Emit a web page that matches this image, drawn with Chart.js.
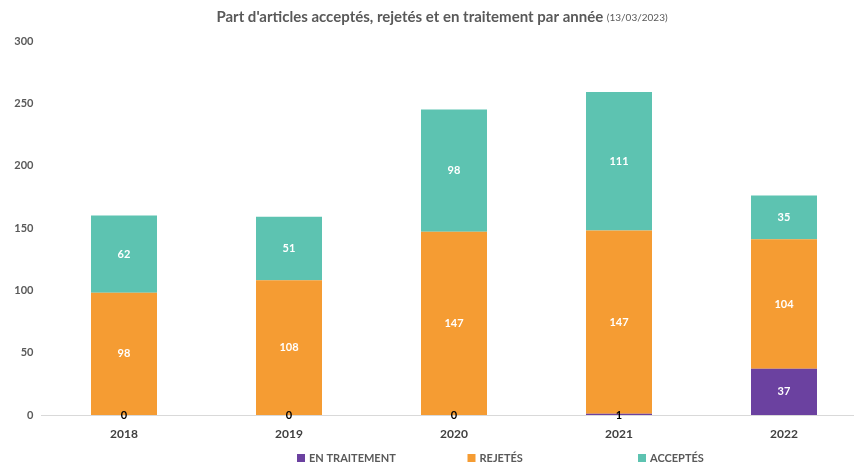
<!DOCTYPE html>
<html lang="fr">
<head>
<meta charset="utf-8">
<title>Articles par année</title>
<script src="https://cdn.jsdelivr.net/npm/chart.js@4.4.1/dist/chart.umd.min.js"></script>
<style>
    html, body { margin: 0; padding: 0; background: #fff; overflow: hidden; }
    #wrap { width: 880px; height: 464px; }
</style>
</head>
<body>
<div id="wrap"><canvas id="graphique"></canvas></div>
<script>
var annees = ["2018", "2019", "2020", "2021", "2022"];
var enTraitement = [0, 0, 0, 1, 37];
var rejetes = [98, 108, 147, 147, 104];
var acceptes = [62, 51, 98, 111, 35];
var graduations = [0, 50, 100, 150, 200, 250, 300];
var titre = "Part d'articles acceptés, rejetés et en traitement par année";
var dateTitre = "(13/03/2023)";
var legendes = ["En traitement", "Rejetés", "Acceptés"];
var couleurs = ["#6b41a0", "#f59c33", "#5dc3b1"];

// titre en deux morceaux (gras + date plus petite)
var titrePlugin = {
    id: 'titre',
    afterDraw: function (chart) {
        var ctx = chart.ctx;
        ctx.save();
        ctx.textBaseline = 'middle';
        ctx.fillStyle = '#595959';
        ctx.font = 'bold 15px Lato';
        var w1 = ctx.measureText(titre + " ").width;
        ctx.font = '10px Lato';
        var w2 = ctx.measureText(dateTitre).width;
        var x = 442 - (w1 + w2) / 2;
        ctx.font = 'bold 15px Lato';
        ctx.fillText(titre + " ", x, 17);
        ctx.font = '10px Lato';
        ctx.fillText(dateTitre, x + w1, 18);
        ctx.restore();
    }
};

// valeurs dans les barres
var etiquettes = {
    id: 'etiquettes',
    afterDatasetsDraw: function (chart) {
        var ctx = chart.ctx;
        ctx.save();
        ctx.textAlign = 'center';
        ctx.textBaseline = 'middle';
        ctx.font = 'bold 11px Lato';
        chart.data.datasets.forEach(function (ds, i) {
            chart.getDatasetMeta(i).data.forEach(function (bar, j) {
                var v = ds.data[j];
                if (v >= 10) {
                    ctx.fillStyle = '#ffffff';
                    ctx.fillText(v, bar.x, (bar.y + bar.base) / 2);
                } else if (i === 0) {
                    ctx.fillStyle = '#000000';
                    ctx.fillText(v, bar.x, bar.base);
                }
            });
        });
        ctx.restore();
    }
};

// legende en bas, cases de meme largeur comme dans Excel
var legendeBas = {
    id: 'legendeBas',
    afterDraw: function (chart) {
        var ctx = chart.ctx;
        var y = chart.height - 6;
        ctx.save();
        ctx.textBaseline = 'middle';
        ctx.font = 'bold 11px Lato';
        for (var i = 0; i < legendes.length; i++) {
            var x = 297 + i * 170.5;
            ctx.fillStyle = couleurs[i];
            ctx.fillRect(x, y - 4, 8, 8);
            ctx.fillStyle = '#595959';
            ctx.fillText(legendes[i].toUpperCase(), x + 12, y);
        }
        ctx.restore();
    }
};

var donnees = [enTraitement, rejetes, acceptes];

new Chart(document.getElementById('graphique'), {
    type: 'bar',
    data: {
        labels: annees,
        datasets: donnees.map(function (d, i) {
            return {
                label: legendes[i],
                data: d,
                backgroundColor: couleurs[i],
                borderWidth: 0,
                categoryPercentage: 1,
                barPercentage: 0.4
            };
        })
    },
    options: {
        responsive: true,
        maintainAspectRatio: false,
        animation: false,
        layout: {
            padding: {top: 41, bottom: 14, left: 0, right: 13.5}
        },
        plugins: {
            legend: {display: false},
            title: {display: false},
            tooltip: {enabled: false}
        },
        scales: {
            x: {
                stacked: true,
                grid: {display: false, drawTicks: false},
                border: {display: true, color: '#d9d9d9', width: 1},
                ticks: {
                    color: '#404040',
                    font: {family: 'Lato', size: 12, weight: 'bold'},
                    padding: 12
                },
                afterFit: function (scale) {
                    scale.height = 35;
                }
            },
            y: {
                stacked: true,
                min: 0,
                max: 300,
                grid: {display: false, drawTicks: false},
                border: {display: false},
                ticks: {
                    color: '#595959',
                    font: {family: 'Lato', size: 11, weight: 'bold'},
                    padding: 8
                },
                afterBuildTicks: function (scale) {
                    scale.ticks = graduations.map(function (v) {
                        return {value: v};
                    });
                },
                afterFit: function (scale) {
                    scale.width = 41.5;
                }
            }
        }
    },
    plugins: [titrePlugin, etiquettes, legendeBas]
});
</script>
</body>
</html>
